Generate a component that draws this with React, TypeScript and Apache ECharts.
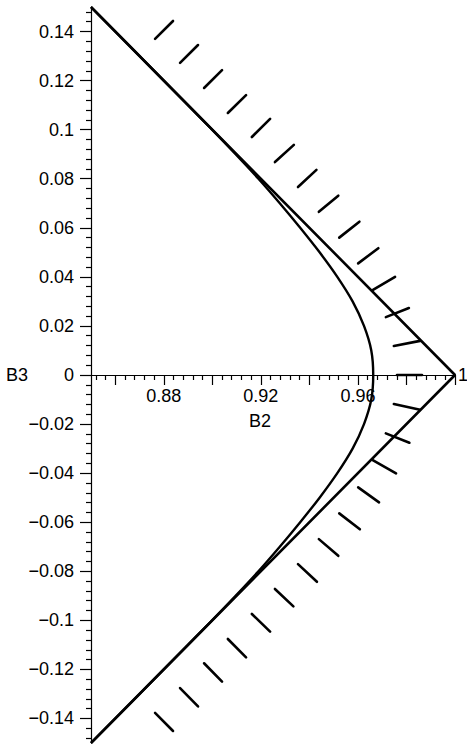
import React, { useEffect, useRef } from "react";
import * as echarts from "echarts";

// Axis ranges
const B2_RANGE = [0.85, 1.0];
const B3_RANGE = [-0.15, 0.15];

// Tick values / labels
const xMajorTicks = [0.86, 0.88, 0.9, 0.92, 0.94, 0.96, 0.98, 1.0];
const xLabelValues = [0.88, 0.92, 0.96];
const xLabelTexts = ["0.88", "0.92", "0.96"];
const yTickValues = [0.14, 0.12, 0.1, 0.08, 0.06, 0.04, 0.02, 0, -0.02, -0.04, -0.06, -0.08, -0.1, -0.12, -0.14];
const yTickLabels = ["0.14", "0.12", "0.1", "0.08", "0.06", "0.04", "0.02", "0", "\u22120.02", "\u22120.04", "\u22120.06", "\u22120.08", "\u22120.1", "\u22120.12", "\u22120.14"];
const xAxisTitle = "B2";
const xAxisTitleAt = 0.9196;

// Boundary (straight lines)
const boundaryB2 = [0.85, 1.0, 0.85];
const boundaryB3 = [0.15, 0.0, -0.15];

// Curve
const curveB2 = [0.85, 0.88, 0.8999, 0.9096, 0.919, 0.9278, 0.9362, 0.9442, 0.9515, 0.9578, 0.9625, 0.9655, 0.9663,
  0.9655, 0.9625, 0.9578, 0.9515, 0.9442, 0.9362, 0.9278, 0.919, 0.9096, 0.8999, 0.88, 0.85];
const curveB3 = [0.15, 0.12, 0.1, 0.09, 0.08, 0.07, 0.06, 0.05, 0.04, 0.03, 0.02, 0.01, 0,
  -0.01, -0.02, -0.03, -0.04, -0.05, -0.06, -0.07, -0.08, -0.09, -0.1, -0.12, -0.15];

// Hatch marks [B2 start, B3 start, B2 end, B3 end]
const hatches = [
  [0.8764, 0.137, 0.8838, 0.1443],
  [0.8867, 0.1272, 0.8941, 0.1345],
  [0.8966, 0.117, 0.904, 0.1243],
  [0.9064, 0.1068, 0.9139, 0.1141],
  [0.9163, 0.097, 0.9238, 0.1044],
  [0.9258, 0.0868, 0.9336, 0.0938],
  [0.9353, 0.0766, 0.9429, 0.0836],
  [0.9439, 0.0665, 0.9519, 0.0731],
  [0.9523, 0.056, 0.9606, 0.0625],
  [0.9601, 0.0455, 0.9684, 0.0517],
  [0.9662, 0.0347, 0.9753, 0.04],
  [0.9715, 0.0236, 0.981, 0.0273],
  [0.9748, 0.0118, 0.9856, 0.0139],
  [0.9761, 0, 0.9864, 0],
  [0.9748, -0.0118, 0.9856, -0.0142],
  [0.9715, -0.0238, 0.9812, -0.0276],
  [0.9661, -0.0347, 0.9757, -0.0401],
  [0.9601, -0.0458, 0.9687, -0.0519],
  [0.9523, -0.0564, 0.9608, -0.0629],
  [0.9439, -0.0669, 0.9519, -0.0737],
  [0.9353, -0.0771, 0.9431, -0.0843],
  [0.9258, -0.0872, 0.9334, -0.0943],
  [0.9163, -0.0974, 0.9238, -0.1046],
  [0.9064, -0.1076, 0.9139, -0.1151],
  [0.8966, -0.1175, 0.904, -0.125],
  [0.8867, -0.1276, 0.8941, -0.1351],
  [0.8764, -0.1377, 0.8838, -0.1451],
];

const FONT = "'Liberation Sans', Arial, Helvetica, sans-serif";

function minorTicks(min: number, max: number, step: number, majors: number[]) {
  const out: number[] = [];
  const n = Math.round((max - min) / step);
  for (let i = 0; i <= n; i++) {
    const v = Math.round((min + i * step) * 10000) / 10000;
    if (!majors.some((m) => Math.abs(m - v) < 1e-6)) out.push(v);
  }
  return out;
}

export default function App() {
  const ref = useRef<HTMLDivElement>(null);
  useEffect(() => {
    document.body.style.margin = "0";
    const chart = echarts.init(ref.current!, undefined, { renderer: "svg" });
    const xMinor = minorTicks(0.852, 0.996, 0.004, xMajorTicks);
    const yMinor = minorTicks(-0.148, 0.148, 0.004, yTickValues);
    const lineStyleAxis = { color: "#000", width: 1.2 };
    const textItem = (text: string, x: number, y: number) => ({
      type: "text",
      x,
      y,
      style: {
        text,
        fill: "#000",
        fontFamily: FONT,
        fontSize: 18,
        align: "center",
        verticalAlign: "top",
      },
    });
    chart.setOption({
      animation: false,
      backgroundColor: "#fff",
      grid: { left: 91, right: 12, top: 7, bottom: 5, containLabel: false, outerBoundsMode: "none" },
      xAxis: [
        {
          type: "value",
          position: "bottom",
          min: B2_RANGE[0],
          max: B2_RANGE[1],
          axisLine: { show: true, onZero: true, onZeroAxisIndex: 0, lineStyle: lineStyleAxis },
          axisTick: { show: true, length: 10, customValues: xMajorTicks, lineStyle: lineStyleAxis },
          axisLabel: { show: false },
          splitLine: { show: false },
          name: "1",
          nameLocation: "end",
          nameGap: 3,
          nameTextStyle: { color: "#000", fontFamily: FONT, fontSize: 18 },
        },
        {
          type: "value",
          position: "bottom",
          min: B2_RANGE[0],
          max: B2_RANGE[1],
          axisLine: { show: false, onZero: true, onZeroAxisIndex: 1 },
          axisTick: { show: true, length: 5, customValues: xMinor, lineStyle: lineStyleAxis },
          axisLabel: { show: false },
          splitLine: { show: false },
        },
      ],
      yAxis: [
        {
          type: "value",
          position: "left",
          min: B3_RANGE[0],
          max: B3_RANGE[1],
          axisLine: { show: true, onZero: false, lineStyle: lineStyleAxis },
          axisTick: { show: true, length: 11, customValues: yTickValues, lineStyle: lineStyleAxis },
          axisLabel: {
            show: true,
            customValues: yTickValues,
            margin: 17,
            color: "#000",
            fontFamily: FONT,
            fontSize: 18,
            formatter: (v: number) => {
              const i = yTickValues.findIndex((m) => Math.abs(m - v) < 1e-6);
              return i >= 0 ? yTickLabels[i] : "";
            },
          },
          splitLine: { show: false },
        },
        {
          type: "value",
          position: "left",
          min: B3_RANGE[0],
          max: B3_RANGE[1],
          axisLine: { show: false, onZero: false },
          axisTick: { show: true, length: 5, customValues: yMinor, lineStyle: lineStyleAxis },
          axisLabel: { show: false },
          splitLine: { show: false },
          name: "B3",
          nameLocation: "middle",
          nameRotate: 0,
          nameGap: 63,
          nameTextStyle: { color: "#000", fontFamily: FONT, fontSize: 18, padding: [14, 0, 0, 0] },
        },
      ],
      series: [
        {
          type: "line",
          xAxisIndex: 0,
          yAxisIndex: 0,
          data: boundaryB2.map((x, i) => [x, boundaryB3[i]]),
          symbol: "none",
          lineStyle: { color: "#000", width: 2.6 },
          z: 3,
        },
        {
          type: "line",
          xAxisIndex: 0,
          yAxisIndex: 0,
          data: curveB2.map((x, i) => [x, curveB3[i]]),
          symbol: "none",
          smooth: 0.3,
          lineStyle: { color: "#000", width: 2.4 },
          z: 3,
        },
        {
          type: "custom",
          xAxisIndex: 0,
          yAxisIndex: 0,
          data: hatches,
          encode: { x: [0, 2], y: [1, 3] },
          renderItem: (params: any, api: any) => {
            const p1 = api.coord([api.value(0), api.value(1)]);
            const p2 = api.coord([api.value(2), api.value(3)]);
            return {
              type: "line",
              shape: { x1: p1[0], y1: p1[1], x2: p2[0], y2: p2[1] },
              style: { stroke: "#000", lineWidth: 2.6, lineCap: "round" },
            };
          },
          z: 4,
        },
        {
          type: "custom",
          name: "xLabels",
          xAxisIndex: 0,
          yAxisIndex: 0,
          clip: false,
          silent: true,
          data: xLabelValues.map((v, i) => [v, 0, i]),
          encode: { x: 0, y: 1 },
          renderItem: (params: any, api: any) => {
            const p = api.coord([api.value(0), api.value(1)]);
            return textItem(xLabelTexts[api.value(2)], p[0], p[1] + 12);
          },
          z: 5,
        },
        {
          type: "custom",
          name: "xTitle",
          xAxisIndex: 0,
          yAxisIndex: 0,
          clip: false,
          silent: true,
          data: [[xAxisTitleAt, 0]],
          encode: { x: 0, y: 1 },
          renderItem: (params: any, api: any) => {
            const p = api.coord([api.value(0), api.value(1)]);
            return textItem(xAxisTitle, p[0], p[1] + 37);
          },
          z: 5,
        },
      ],
    });
    return () => chart.dispose();
  }, []);
  return (
    <div
      ref={ref}
      style={{ position: "absolute", left: 0, top: 0, width: 467, height: 748, background: "#fff" }}
    />
  );
}
